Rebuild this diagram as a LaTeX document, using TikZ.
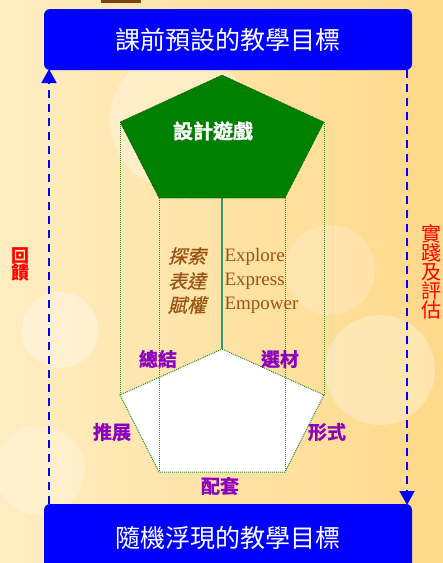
\documentclass[tikz,border=0pt]{standalone}
\usepackage{fontspec}
\setmainfont{Liberation Serif}
\newfontfamily\cjk{Noto Sans CJK TC}
\newfontfamily\cjkit[FakeSlant=0.25, FakeBold=0.6]{Noto Sans CJK TC}
\newfontfamily\cjkheavy[FakeBold=1.2]{Noto Sans CJK TC Bold}
\usetikzlibrary{arrows.meta}
\definecolor{bgA}{rgb}{1,0.93,0.76}
\definecolor{bgB}{rgb}{1,0.85,0.54}
\definecolor{gameg}{rgb}{0,0.5,0}
\definecolor{dotg}{rgb}{0.15,0.55,0.15}
\definecolor{axisg}{rgb}{0.2,0.6,0.42}
\definecolor{brownt}{rgb}{0.6,0.33,0.08}
\definecolor{purp}{rgb}{0.55,0,0.75}
\tikzset{
  goalbox/.style={fill=blue, rounded corners=6pt, minimum width=368pt, text=white, font=\cjk\fontsize{25}{25}\selectfont},
  edgedot/.style={dotg, densely dotted, line width=1pt},
  feedarrow/.style={blue, dash pattern=on 8pt off 6pt, line width=1.8pt, -{Triangle[width=15pt,length=14pt]}},
  stagelbl/.style={text=purp, font=\cjkheavy\fontsize{19}{19}\selectfont},
  sidelbl/.style={text=red, font=\cjk\fontsize{18}{20}\selectfont, align=center},
  cnlbl/.style={text=brownt, font=\cjkit\fontsize{19}{19}\selectfont},
  enlbl/.style={text=brownt, font=\fontsize{19}{19}\selectfont, anchor=west}
}
\begin{document}
\begin{tikzpicture}[x=1pt,y=-1pt]
\useasboundingbox (0,0) rectangle (443,563);
% background
\shade[left color=bgA, right color=bgB] (0,0) rectangle (443,563);
\fill[white, opacity=0.35] (60,330) circle (38);
\fill[white, opacity=0.3] (380,370) circle (55);
\fill[white, opacity=0.25] (40,470) circle (45);
\fill[white, opacity=0.3] (180,120) circle (70);
\fill[white, opacity=0.2] (330,270) circle (45);
\fill[brownt!80!black] (101,0) rectangle (141,3);

% goal boxes
\node[goalbox, minimum height=61pt] (top) at (228,39.5) {課前預設的教學目標};
\node[goalbox, minimum height=68pt] (bot) at (228,538) {隨機浮現的教學目標};

% pentagon coordinates
\coordinate (gT) at (222,75);
\coordinate (gL) at (120,122);
\coordinate (gR) at (324,122);
\coordinate (gBL) at (159,198);
\coordinate (gBR) at (285,198);
\coordinate (gC) at (222,198);
\coordinate (wT) at (222,349);
\coordinate (wL) at (120,395);
\coordinate (wR) at (324,395);
\coordinate (wBL) at (159,472);
\coordinate (wBR) at (285,472);

% white base pentagon
\fill[white] (wT) -- (wR) -- (wBR) -- (wBL) -- (wL) -- cycle;
\draw[edgedot] (wT) -- (wR) -- (wBR) -- (wBL) -- (wL) -- cycle;
% vertical edges
\draw[edgedot] (gL) -- (wL);
\draw[edgedot] (gR) -- (wR);
\draw[edgedot] (gBL) -- (wBL);
\draw[edgedot] (gBR) -- (wBR);
% axis
\draw[axisg, line width=1.6pt] (gC) -- (wT);
% green pentagon
\fill[gameg] (gT) -- (gR) -- (gBR) -- (gBL) -- (gL) -- cycle;
\draw[black!70!green, densely dotted, line width=0.6pt] (gT) -- (gR) -- (gBR) -- (gBL) -- (gL) -- cycle;
\node[text=white, font=\cjkheavy\fontsize{20}{20}\selectfont] (game) at (213,131) {設計遊戲};

% middle texts
\node[cnlbl] (c1) at (187,256) {探索};
\node[cnlbl] (c2) at (187,281) {表達};
\node[cnlbl] (c3) at (187,305) {賦權};
\node[enlbl] (e1) at (221,257) {Explore};
\node[enlbl] (e2) at (221,281) {Express};
\node[enlbl] (e3) at (221,305) {Empower};

% stage labels
\node[stagelbl] (s1) at (158,359) {總結};
\node[stagelbl] (s2) at (280,359) {選材};
\node[stagelbl] (s3) at (112,432) {推展};
\node[stagelbl] (s4) at (327,432) {形式};
\node[stagelbl] (s5) at (220,486) {配套};

% feedback arrows
\coordinate (lb) at (49,504);
\coordinate (lt) at (49,69);
\coordinate (rt) at (407,70);
\coordinate (rb) at (407,505);
\draw[feedarrow] (lb) -- (lt);
\draw[feedarrow] (rt) -- (rb);
\node[sidelbl, font=\cjk\bfseries\fontsize{18}{20}\selectfont] (fb) at (20,264) {回\\[-3pt]饋};
\node[sidelbl, font=\cjk\fontsize{20}{21}\selectfont] (pe) at (431,272) {實\\[-2pt]踐\\[-2pt]及\\[-2pt]評\\[-2pt]估};
\end{tikzpicture}
\end{document}
